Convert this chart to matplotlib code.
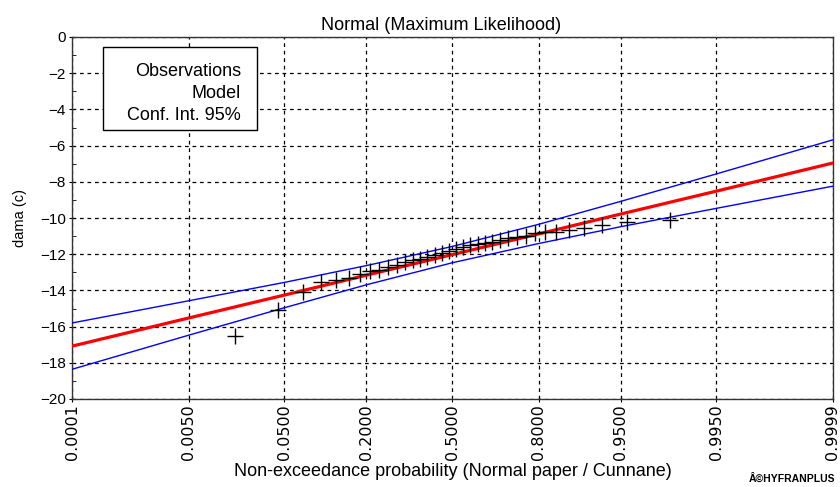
import numpy as np
import matplotlib
matplotlib.use("Agg")
import matplotlib.pyplot as plt
from matplotlib.patches import Rectangle
from matplotlib.ticker import FixedLocator, FixedFormatter, MultipleLocator
from statistics import NormalDist

plt.rcParams['font.family'] = ['Liberation Sans', 'DejaVu Sans']

# ---- data ----
obs_prob = [0.0166, 0.0442, 0.0718, 0.0994, 0.1271, 0.1547, 0.1823, 0.2099, 0.2376,
            0.2652, 0.2928, 0.3204, 0.3481, 0.3757, 0.4033, 0.4309, 0.4586, 0.4862,
            0.5138, 0.5414, 0.5691, 0.5967, 0.6243, 0.6519, 0.6796, 0.7072, 0.7348,
            0.7624, 0.7901, 0.8177, 0.8453, 0.8729, 0.9006, 0.9282, 0.9558, 0.9834]
obs_value = [-16.5, -15.1, -14.1, -13.55, -13.4, -13.3, -13.1, -12.95, -12.85,
             -12.7, -12.6, -12.45, -12.3, -12.25, -12.15, -12.05, -11.95, -11.8,
             -11.7, -11.6, -11.5, -11.45, -11.4, -11.3, -11.2, -11.1, -11.05,
             -11.0, -10.85, -10.75, -10.8, -10.65, -10.55, -10.4, -10.2, -10.1]

curve_prob = [0.0001, 0.005, 0.05, 0.2, 0.5, 0.8, 0.95, 0.995, 0.9999]
model_value = [-17.08, -15.52, -14.26, -13.16, -12.02, -10.88, -9.78, -8.52, -6.96]
ci_upper = [-15.80, -14.57, -13.56, -12.63, -11.57, -10.35, -9.08, -7.57, -5.68]
ci_lower = [-18.36, -16.47, -14.96, -13.69, -12.47, -11.41, -10.48, -9.47, -8.24]

x_ticks = [0.0001, 0.005, 0.05, 0.2, 0.5, 0.8, 0.95, 0.995, 0.9999]
x_tick_labels = ["0.0001", "0.0050", "0.0500", "0.2000", "0.5000",
                 "0.8000", "0.9500", "0.9950", "0.9999"]
y_ticks = list(range(0, -21, -2))

title = "Normal (Maximum Likelihood)"
xlabel = "Non-exceedance probability (Normal paper / Cunnane)"
ylabel = "dama (c)"
legend_lines = ["Observations", "Model", "Conf. Int. 95%"]

# ---- normal probability scale ----
_nd = NormalDist()
def fwd(p):
    p = np.clip(np.asarray(p, dtype=float), 1e-9, 1 - 1e-9)
    return np.vectorize(_nd.inv_cdf, otypes=[float])(p)
def inv(z):
    z = np.asarray(z, dtype=float)
    return np.vectorize(_nd.cdf, otypes=[float])(z)

W, H = 840, 487
L, R, T, B = 72, 833, 37, 399
fig = plt.figure(figsize=(W / 100, H / 100), dpi=100)
ax = fig.add_axes([L / W, 1 - B / H, (R - L) / W, (B - T) / H])
ax.set_xscale('function', functions=(fwd, inv))
ax.set_xlim(0.0001, 0.9999)
ax.set_ylim(-20, 0)

ax.plot(curve_prob, ci_upper, color='#0000ff', lw=1.0, zorder=3)
ax.plot(curve_prob, ci_lower, color='#0000ff', lw=1.0, zorder=3)
ax.plot(curve_prob, model_value, color='#ff0000', lw=2.3, zorder=4)
ax.plot(obs_prob, obs_value, linestyle='none', marker='+', color='black',
        markersize=11, mew=1.0, zorder=5)

ax.xaxis.set_major_locator(FixedLocator(x_ticks))
ax.xaxis.set_major_formatter(FixedFormatter(x_tick_labels))
ax.xaxis.set_minor_locator(FixedLocator([]))
ax.set_yticks(y_ticks)
ax.yaxis.set_minor_locator(MultipleLocator(1))

ax.grid(True, which='major', color='black', linestyle=(0, (3, 3)), linewidth=0.9)
ax.tick_params(axis='x', which='major', labelsize=11.5, rotation=90, length=4,
               direction='inout', pad=2)
ax.tick_params(axis='y', which='major', labelsize=11, length=5, direction='inout', pad=2)
ax.tick_params(axis='y', which='minor', length=3, direction='in')
for lab in ax.get_xticklabels():
    lab.set_fontfamily(['DejaVu Sans'])
for s in ax.spines.values():
    s.set_color('#333333')
    s.set_linewidth(1.0)

ax.set_title(title, fontsize=13, pad=5, x=(441 - L) / (R - L))
ax.set_xlabel(xlabel, fontsize=13, labelpad=2)
ax.set_ylabel(ylabel, fontsize=10.5, labelpad=9)

# legend box (text only, as in the reference)
def ax_xy(px, py):
    return (px - L) / (R - L), (B - py) / (B - T)
bx0, by0 = ax_xy(103, 130)
bx1, by1 = ax_xy(257, 47)
ax.add_patch(Rectangle((bx0, by0), bx1 - bx0, by1 - by0, transform=ax.transAxes,
                       facecolor='white', edgecolor='black', linewidth=1.0, zorder=10))
for line, py in zip(legend_lines, [71, 93, 116]):
    tx, ty = ax_xy(241, py)
    ax.text(tx, ty, line, transform=ax.transAxes, ha='right', va='center',
            fontsize=13, zorder=11)

fig.text(835 / W, 1 - 479 / H, "Â©HYFRANPLUS", ha='right', va='center',
         fontsize=7.5, fontweight='bold')

fig.savefig("out.png", dpi=100)
